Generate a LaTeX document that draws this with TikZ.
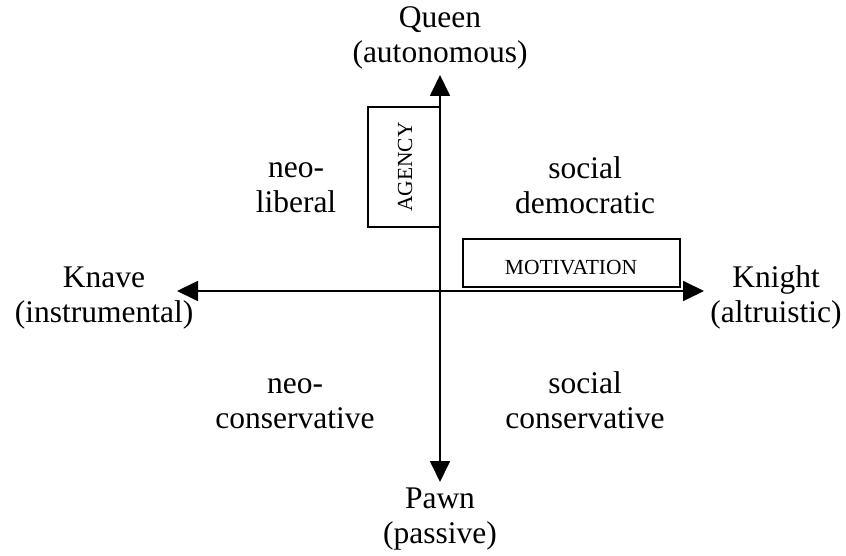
\documentclass[tikz,border=0pt]{standalone}
\usepackage{fontspec}
\setmainfont{Liberation Serif}
\usetikzlibrary{arrows.meta}
\begin{document}
\begin{tikzpicture}[x=1pt,y=-1pt,
  lbl/.style={font=\fontsize{31.5}{35}\selectfont, align=center, anchor=base, inner sep=0pt},
  tag/.style={font=\fontsize{21.5}{24}\selectfont, inner sep=0pt},
  axis/.style={line width=1.8pt, {Triangle[length=21pt,width=20pt]}-{Triangle[length=21pt,width=20pt]}},
  boxline/.style={draw, line width=1.6pt}]
  \useasboundingbox (0,0) rectangle (846,556);

  % end points of the two axes
  \coordinate (west)  at (177,291);
  \coordinate (east)  at (704,291);
  \coordinate (north) at (440,75);
  \coordinate (south) at (440,482);

  % labelled bars along the axes
  \draw[boxline] (368,107) rectangle (440,227);
  \node[tag, rotate=90] (agency) at (405,167) {AGENCY};
  \draw[boxline] (463,239) rectangle (680,287);
  \node[tag] (motivation) at (571,268) {MOTIVATION};

  % axes
  \draw[axis] (west) -- (east);
  \draw[axis] (north) -- (south);

  % poles (anchored on the baseline of the second line)
  \node[lbl] (queen)  at (440,63)  {Queen\\(autonomous)};
  \node[lbl] (pawn)   at (440,543) {Pawn\\(passive)};
  \node[lbl] (knave)  at (104,322) {Knave\\(instrumental)};
  \node[lbl] (knight) at (776,322) {Knight\\(altruistic)};

  % quadrants
  \node[lbl] (nl) at (296,213) {neo-\\liberal};
  \node[lbl] (sd) at (585,214) {social\\democratic};
  \node[lbl] (nc) at (295,428) {neo-\\conservative};
  \node[lbl] (sc) at (585,428) {social\\conservative};
\end{tikzpicture}
\end{document}
